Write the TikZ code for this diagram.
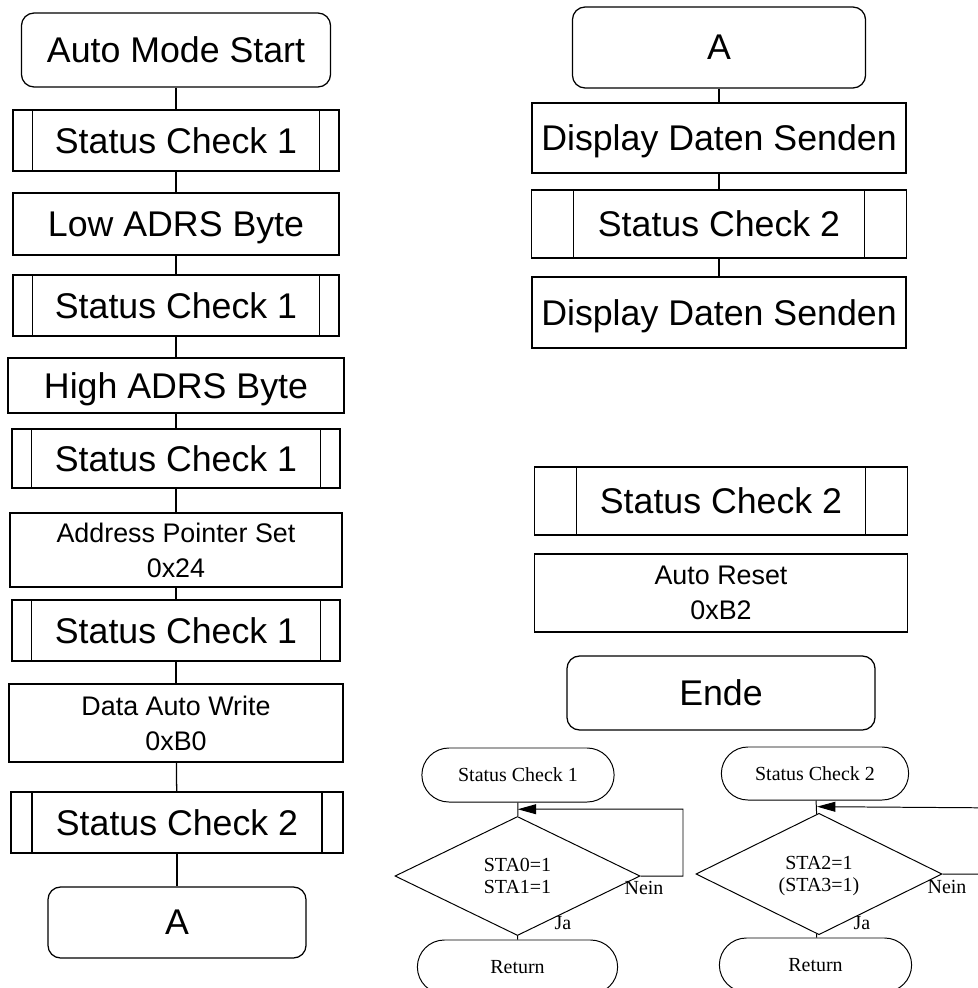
\documentclass[tikz,border=0pt]{standalone}
\usepackage{fontspec}
\setmainfont{Liberation Sans}
\newfontfamily\timesfont{Liberation Serif}
\usetikzlibrary{arrows.meta,positioning,shapes.geometric,shapes.misc,calc}

\begin{document}
\begin{tikzpicture}[x=0.025cm,y=-0.025cm,
    box/.style={draw,line width=0.9pt,inner sep=2pt,align=center,text depth=0pt,font=\fontsize{25.4}{30}\selectfont},
    small/.style={font=\fontsize{19.1}{24.6}\selectfont},
    term/.style={box,rounded corners=9pt},
    subproc/.style={box,path picture={
      \draw[line width=0.9pt] ([xshift=#1]path picture bounding box.north west) -- ([xshift=#1]path picture bounding box.south west);
      \draw[line width=0.9pt] ([xshift=-#1]path picture bounding box.north east) -- ([xshift=-#1]path picture bounding box.south east);}},
    subproc/.default=14pt,
    tiny/.style={line width=0.7pt,inner sep=1pt,align=center,text depth=0pt,font=\timesfont\fontsize{14.2}{15.6}\selectfont},
    stadium/.style={tiny,draw,rounded rectangle},
    decide/.style={tiny,draw,diamond},
    backline/.style={line width=0.7pt,-{Triangle[length=13pt,width=7pt]}}]
  \useasboundingbox (0,0) rectangle (978,988);
  \clip (0,0) rectangle (978,988);

  % left column
  \node[term,minimum width=7.725cm,minimum height=1.85cm] (start) at (176,50) {Auto Mode Start};
  \node[subproc,minimum width=8.15cm,minimum height=1.525cm] (sc1a) at (176,140.5) {Status Check 1};
  \node[box,minimum width=8.15cm,minimum height=1.55cm] (low) at (176,224) {Low ADRS Byte};
  \node[subproc,minimum width=8.15cm,minimum height=1.525cm] (sc1b) at (176,305.5) {Status Check 1};
  \node[box,minimum width=8.4cm,minimum height=1.375cm] (high) at (176,385.5) {High ADRS Byte};
  \node[subproc,minimum width=8.2cm,minimum height=1.475cm] (sc1c) at (176,458.5) {Status Check 1};
  \node[box,small,minimum width=8.3cm,minimum height=1.85cm] (addr) at (176,550) {Address Pointer Set\\0x24};
  \node[subproc,minimum width=8.2cm,minimum height=1.525cm] (sc1d) at (176,630.5) {Status Check 1};
  \node[box,small,minimum width=8.35cm,minimum height=1.95cm] (daw) at (176,723) {Data Auto Write\\0xB0};
  \node[subproc=15pt,minimum width=8.3cm,minimum height=1.525cm] (sc2a) at (177,822.5) {Status Check 2};
  \node[term,minimum width=6.45cm,minimum height=1.775cm] (ga) at (177,922.5) {A};
  \foreach \a/\b in {start/sc1a,sc1a/low,low/sc1b,sc1b/high,high/sc1c,sc1c/addr,addr/sc1d,sc1d/daw,daw/sc2a,sc2a/ga}
    \draw[line width=0.9pt] (\a) -- (\b);

  % right column
  \node[term,minimum width=7.325cm,minimum height=2.025cm] (gb) at (719,47.5) {A};
  \node[box,minimum width=9.35cm,minimum height=1.75cm] (dds1) at (719,138) {Display Daten Senden};
  \node[subproc=30pt,minimum width=9.375cm,minimum height=1.7cm] (sc2b) at (719,224) {Status Check 2};
  \node[box,minimum width=9.35cm,minimum height=1.775cm] (dds2) at (719,312.5) {Display Daten Senden};
  \foreach \a/\b in {gb/dds1,dds1/sc2b,sc2b/dds2}
    \draw[line width=0.9pt] (\a) -- (\b);
  \node[subproc=30pt,minimum width=9.325cm,minimum height=1.7cm] (sc2c) at (721,501) {Status Check 2};
  \node[box,small,minimum width=9.325cm,minimum height=1.95cm] (reset) at (721,593) {Auto Reset\\0xB2};
  \node[term,minimum width=7.7cm,minimum height=1.85cm] (ende) at (721,693) {Ende};

  % status check 1
  \node[stadium,minimum width=4.875cm,minimum height=1.35cm] (t1) at (518,775) {Status Check 1};
  \node[decide,minimum width=6.125cm,minimum height=2.975cm] (d1) at (517.5,876) {STA0=1\\STA1=1};
  \node[stadium,minimum width=5.075cm,minimum height=1.35cm] (r1) at (517.5,967) {Return};
  \node[tiny] (nein1) at (644,888) {Nein};
  \node[tiny] (ja1) at (563,923) {Ja};
  \draw[line width=0.7pt] (t1) -- (d1);
  \draw[line width=0.7pt] (d1) -- (r1);
  \coordinate (j1) at ($(t1.south)!0.5!(d1.north)$);
  \coordinate (back1) at (683,809);
  \draw[backline] (d1.east) -| (back1) -- (j1);

  % status check 2
  \node[stadium,minimum width=4.75cm,minimum height=1.325cm] (t2) at (815,773.5) {Status Check 2};
  \node[decide,minimum width=6.15cm,minimum height=2.95cm] (d2) at (819,874) {STA2=1\\(STA3=1)};
  \node[stadium,minimum width=4.875cm,minimum height=1.35cm] (r2) at (815.5,965) {Return};
  \node[tiny] (nein2) at (947,887) {Nein};
  \node[tiny] (ja2) at (862,923) {Ja};
  \draw[line width=0.7pt] (t2) -- (d2);
  \draw[line width=0.7pt] (d2) -- (r2);
  \coordinate (j2) at ($(t2.south)!0.5!(d2.north)$);
  \coordinate (back2) at (1010,808);
  \draw[backline] (d2.east) -| (back2) -- (j2);
\end{tikzpicture}
\end{document}
